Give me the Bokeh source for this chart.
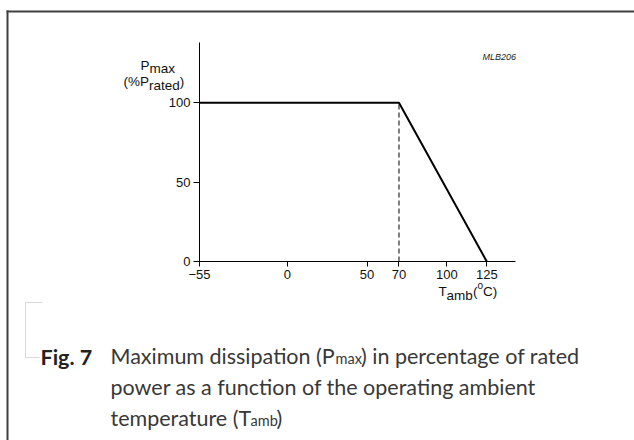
from bokeh.plotting import figure
from bokeh.models import Range1d, FixedTicker, Label, BoxAnnotation, LinearAxis
from bokeh.embed import file_html
from bokeh.resources import INLINE

# ---- data ----
temps = [-55, 70, 125]          # Tamb (degC)
pmax = [100, 100, 0]            # Pmax (% P rated)
knee_t = [70, 70]
knee_p = [0, 100]
x_ticks = [-55, 0, 50, 70, 100, 125]
y_ticks = [0, 50, 100]
x_min, x_max = -55, 143
y_min, y_max = 0, 138

W, H = 634, 440
# plot box (page pixels) of the axes
PX0, PX1, PY0, PY1 = 199, 515, 261, 42
kx = (PX1 - PX0) / (x_max - x_min)
ky = (PY0 - PY1) / (y_max - y_min)
xr = Range1d(x_min - PX0 / kx, x_min + (W - PX0) / kx)
yr = Range1d(y_min - (H - PY0) / ky, y_min + PY0 / ky)

p = figure(width=W, height=H, output_backend="svg", toolbar_location=None,
           x_range=xr, y_range=yr, x_axis_type=None, y_axis_type=None,
           min_border_left=0, min_border_right=0,
           min_border_top=0, min_border_bottom=0)
p.title.visible = False
p.outline_line_color = None
p.background_fill_color = "white"
p.border_fill_color = "white"

FONT = "Liberation Sans"
xax = LinearAxis(ticker=FixedTicker(ticks=x_ticks), fixed_location=y_min,
                 bounds=(x_min, x_max))
yax = LinearAxis(ticker=FixedTicker(ticks=y_ticks), fixed_location=x_min,
                 bounds=(y_min, y_max))
for ax in (xax, yax):
    ax.axis_line_color = "black"
    ax.axis_line_width = 1
    ax.major_tick_line_color = "black"
    ax.minor_tick_line_color = None
    ax.major_tick_in = 0
    ax.major_label_text_font = FONT
    ax.major_label_text_font_size = "13px"
    ax.major_label_text_color = "#111111"
xax.major_tick_out = 5
xax.major_label_standoff = 3
xax.major_label_overrides = {-55: "\u221255"}
yax.major_tick_out = 6
yax.major_label_standoff = 3
p.add_layout(xax, "below")
p.add_layout(yax, "left")

p.line(temps, pmax, line_color="black", line_width=2)
p.line(knee_t, knee_p, line_color="black", line_width=1, line_dash="5 3")

def lab(x, y, text, size="13.5px", font=FONT, style="normal", color="#111111"):
    p.add_layout(Label(x=x, y=y, x_units="canvas", y_units="canvas", text=text,
                       text_font=font, text_font_size=size, text_font_style=style,
                       text_color=color, text_baseline="alphabetic", text_align="left"))

# y axis title
lab(140, 65, "P")
lab(149, 67.5, "max")
lab(123, 81, "(%P")
lab(148.5, 85, "rated")
lab(179.3, 81, ")")
# x axis title
lab(438, 291, "T")
lab(446, 294.5, "amb")
lab(472.5, 291, "(")
lab(477, 285, "o", size="10px")
lab(482.6, 291, "C)")
# code
lab(482, 56, "MLB206", size="9px", style="italic", color="#222222")

# caption
CF = "Lato"
CC = "#383838"
CS = "21.5px"
SS = "14.5px"
lab(40, 356, "Fig. 7", size="21.5px", font=CF, style="bold", color="#222222")
lab(110, 355, "Maximum dissipation (P", size=CS, font=CF, color=CC)
lab(335, 358, "max", size=SS, font=CF, color=CC)
lab(360.5, 355, ") in percentage of rated", size=CS, font=CF, color=CC)
lab(110, 386, "power as a function of the operating ambient", size=CS, font=CF, color=CC)
lab(110, 417, "temperature (T", size=CS, font=CF, color=CC)
lab(250, 420, "amb", size=SS, font=CF, color=CC)
lab(276, 417, ")", size=CS, font=CF, color=CC)

# frame lines of the page box
def box(l, r, t, b, **kw):
    p.add_layout(BoxAnnotation(left=l, right=r, top=t, bottom=b,
                               left_units="canvas", right_units="canvas",
                               top_units="canvas", bottom_units="canvas", **kw))

box(6, 634, 10, 12, fill_color="#404040", fill_alpha=1, line_color=None)
box(6, 8, 10, 440, fill_color="#404040", fill_alpha=1, line_color=None)
# dotted bracket
dk = dict(fill_alpha=0, line_color="#777777", line_width=1, line_dash="1 1")
box(25, 42, 302, 302, **dk)
box(25, 25, 302, 357, **dk)
box(25, 39, 357, 357, **dk)

open("out.html", "w").write(file_html(p, INLINE))
